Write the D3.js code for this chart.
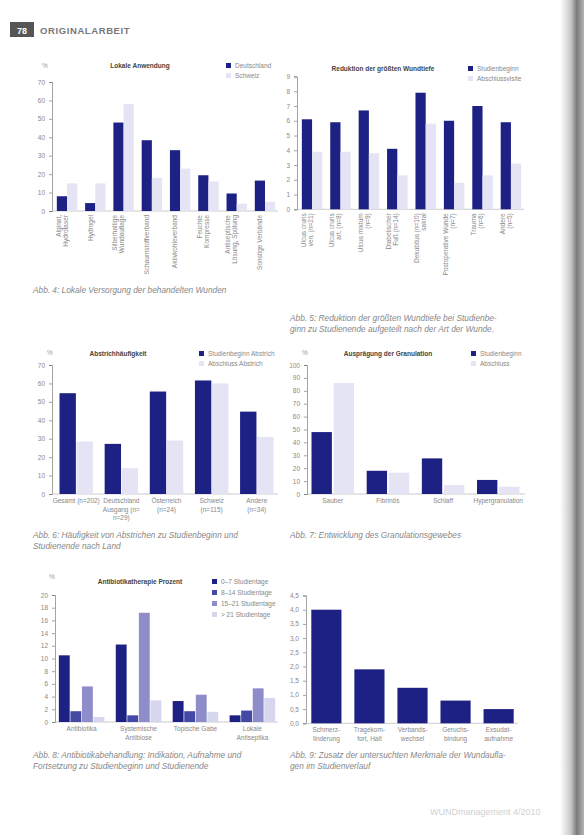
<!DOCTYPE html>
<html><head><meta charset="utf-8">
<script src="https://cdn.jsdelivr.net/npm/d3@7"></script>
<style>
body{margin:0;background:#fff;}
svg{display:block;font-family:"Liberation Sans",Arial,sans-serif;}
</style></head><body>
<script>
// Abb. 4 - lokale Anwendung
var lokCats = ["Alginat,|Hydrofaser", "Hydrogel", "Silberhaltige|Wundauflage", "Schaumstoffverband", "Aktivkohleverband", "Feuchte|Kompresse", "Antiseptische|Lösung, Spülung", "Sonstige Verbände"];
var lokDeutschland = [8, 4.3, 48, 38.4, 33, 19.4, 9.5, 16.5];
var lokSchweiz = [15, 15, 58, 18, 23, 16, 4, 5];
var lokTicks = [0, 10, 20, 30, 40, 50, 60, 70];

// Abb. 5 - Wundtiefe
var tiefeCats = ["Ulcus cruris|ven. (n=21)", "Ulcus cruris|art. (n=8)", "Ulcus mixtum|(n=9)", "Diabetischer|Fuß (n=14)", "Dekubitus (n=10)|sakral", "Postoperative Wunde|(n=7)", "Trauma|(n=6)", "Andere|(n=5)"];
var tiefeBeginn = [6.1, 5.9, 6.7, 4.1, 7.9, 6.0, 7.0, 5.9];
var tiefeAbschluss = [3.9, 3.9, 3.8, 2.3, 5.8, 1.8, 2.3, 3.1];
var tiefeTicks = [0, 1, 2, 3, 4, 5, 6, 7, 8, 9];

// Abb. 6 - Abstrichhäufigkeit
var abstrCats = ["Gesamt (n=202)", "Deutschland|Ausgang (n=|n=29)", "Österreich|(n=24)", "Schweiz|(n=115)", "Andere|(n=34)"];
var abstrBeginn = [54.7, 27.2, 55.6, 61.6, 44.7];
var abstrAbschluss = [28.5, 14, 29, 60, 31];
var abstrTicks = [0, 10, 20, 30, 40, 50, 60, 70];

// Abb. 7 - Granulation
var granCats = ["Sauber", "Fibrinös", "Schlaff", "Hypergranulation"];
var granBeginn = [48, 18, 27.6, 10.9];
var granAbschluss = [86, 16.5, 7, 5.7];
var granTicks = [0, 10, 20, 30, 40, 50, 60, 70, 80, 90, 100];

// Abb. 8 - Antibiotikatherapie
var abCats = ["Antibiotika", "Systemische|Antibiose", "Topische Gabe", "Lokale|Antiseptika"];
var abTag0 = [10.5, 12.2, 3.3, 1.05];
var abTag1 = [1.7, 1.05, 1.7, 1.8];
var abTag2 = [5.6, 17.2, 4.3, 5.3];
var abTag3 = [0.8, 3.4, 1.6, 3.8];
var abNames = ["0–7 Studientage", "8–14 Studientage", "15–21 Studientage", "> 21 Studientage"];
var abTicks = [0, 2, 4, 6, 8, 10, 12, 14, 16, 18, 20];

// Abb. 9 - Bewertung
var bewCats = ["Schmerz-|linderung", "Tragekom-|fort, Halt", "Verbands-|wechsel", "Geruchs-|bindung", "Exsudat-|aufnahme"];
var bewWerte = [4.0, 1.9, 1.25, 0.8, 0.5];
var bewTicks = [0, 0.5, 1, 1.5, 2, 2.5, 3, 3.5, 4, 4.5];

var NAVY = "#1c2183", PALE = "#e4e4f4";
var W = 584, H = 835;

var svg = d3.select("body").append("svg").attr("width", W).attr("height", H);

// scan shadow on right edge
var grad = svg.append("defs").append("linearGradient").attr("id", "edge");
grad.append("stop").attr("offset", "0%").attr("stop-color", "#fff");
grad.append("stop").attr("offset", "45%").attr("stop-color", "#c8c8c8");
grad.append("stop").attr("offset", "70%").attr("stop-color", "#7a7a7a");
grad.append("stop").attr("offset", "100%").attr("stop-color", "#b5b5b5");
svg.append("rect").attr("x", 560).attr("y", 0).attr("width", 24).attr("height", H).attr("fill", "url(#edge)");

// header
svg.append("rect").attr("x", 10).attr("y", 22).attr("width", 24).attr("height", 15).attr("fill", "#555");
svg.append("text").attr("x", 22).attr("y", 33.5).attr("text-anchor", "middle")
  .attr("fill", "#fff").style("font-size", "9px").style("font-weight", "bold").text("78");
svg.append("text").attr("x", 40).attr("y", 34).attr("fill", "#777")
  .style("font-size", "9.5px").style("font-weight", "bold").style("letter-spacing", "0.6px").text("ORIGINALARBEIT");

function chart(o) {
  var g = svg.append("g");
  var x = d3.scaleBand().domain(o.cats).range(o.xr).paddingInner(o.pi).paddingOuter(o.po);
  var sx = d3.scaleBand().domain(d3.range(o.series.length)).range([0, x.bandwidth()]).paddingInner(o.si || 0);
  var y = d3.scaleLinear().domain([0, o.max]).range(o.yr);

  var ax = g.append("g").attr("transform", "translate(" + o.ax + ",0)")
    .call(d3.axisLeft(y).tickValues(o.ticks).tickFormat(o.fmt).tickSize(3).tickPadding(4));
  ax.select(".domain").attr("stroke", "#666").attr("stroke-width", 0.6);
  ax.selectAll(".tick line").attr("stroke", "#666").attr("stroke-width", 0.6);
  ax.selectAll(".tick text").attr("fill", "#888").style("font-size", "6.5px");

  g.append("line").attr("x1", o.ax).attr("x2", o.xr[1]).attr("y1", y(0)).attr("y2", y(0))
    .attr("stroke", "#aaa").attr("stroke-width", 0.6);

  o.series.forEach(function(s, i) {
    g.selectAll(null).data(s.values).enter().append("rect")
      .attr("x", function(d, j) { return x(o.cats[j]) + sx(i); })
      .attr("width", sx.bandwidth())
      .attr("y", function(d) { return y(d); })
      .attr("height", function(d) { return y(0) - y(d); })
      .attr("fill", s.color);
  });

  o.cats.forEach(function(c) {
    var lines = c.split("|");
    var t;
    if (o.rotate) {
      var cx = x(c) + sx(0) + sx.bandwidth() / 2;
      t = g.append("text").attr("transform", "translate(" + cx + "," + (y(0) + 4) + ") rotate(-90)")
        .attr("text-anchor", "end").attr("fill", "#888").style("font-size", "6.5px");
      lines.forEach(function(l, k) {
        t.append("tspan").attr("x", 0).attr("y", (k - (lines.length - 1) / 2) * 7 + 2.3).text(l);
      });
    } else {
      t = g.append("text").attr("text-anchor", "middle").attr("fill", "#888").style("font-size", "6.5px");
      lines.forEach(function(l, k) {
        t.append("tspan").attr("x", x(c) + x.bandwidth() / 2).attr("y", y(0) + 9 + k * 8.5).text(l);
      });
    }
  });

  if (o.unit) {
    g.append("text").attr("x", o.unit[0]).attr("y", o.unit[1]).attr("text-anchor", "middle")
      .attr("fill", "#999").style("font-size", "6.5px").text("%");
  }
  if (o.title) {
    g.append("text").attr("x", o.title[0]).attr("y", o.title[1]).attr("text-anchor", "middle")
      .attr("fill", "#444").style("font-size", "6.5px").style("font-weight", "bold").text(o.title[2]);
  }
  if (o.legend) {
    o.series.forEach(function(s, i) {
      var ly = o.legend[1] + i * o.legend[2];
      g.append("rect").attr("x", o.legend[0]).attr("y", ly - 5).attr("width", 5).attr("height", 5).attr("fill", s.color);
      g.append("text").attr("x", o.legend[0] + 9).attr("y", ly).attr("fill", "#888")
        .style("font-size", "6.5px").text(s.name);
    });
  }
  var cap = g.append("text").attr("fill", "#888").style("font-size", "8.3px").style("font-style", "italic");
  o.caption.forEach(function(l, k) {
    cap.append("tspan").attr("x", o.capPos[0]).attr("y", o.capPos[1] + k * 11).text(l);
  });
}

var fmtInt = d3.format("d");
var fmtDec = function(d) { return d3.format(".1f")(d).replace(".", ","); };

chart({
  cats: lokCats, xr: [54, 278], pi: 0.28, po: 0.1, yr: [211, 82], max: 70, ax: 52,
  ticks: lokTicks, fmt: fmtInt, rotate: true, unit: [45, 68],
  series: [{ name: "Deutschland", values: lokDeutschland, color: NAVY },
           { name: "Schweiz", values: lokSchweiz, color: PALE }],
  title: [140, 68, "Lokale Anwendung"], legend: [226, 68, 10],
  caption: ["Abb. 4: Lokale Versorgung der behandelten Wunden"], capPos: [33, 293]
});

chart({
  cats: tiefeCats, xr: [299, 524], pi: 0.28, po: 0.1, yr: [209.3, 76.5], max: 9, ax: 297,
  ticks: tiefeTicks, fmt: fmtInt, rotate: true,
  series: [{ name: "Studienbeginn", values: tiefeBeginn, color: NAVY },
           { name: "Abschlussvisite", values: tiefeAbschluss, color: PALE }],
  title: [383, 71, "Reduktion der größten Wundtiefe"], legend: [468, 71, 10],
  caption: ["Abb. 5: Reduktion der größten Wundtiefe bei Studienbe-", "ginn zu Studienende aufgeteilt nach der Art der Wunde."],
  capPos: [290, 321]
});

chart({
  cats: abstrCats, xr: [55, 278], pi: 0.26, po: 0.1, si: 0.04, yr: [494, 365], max: 70, ax: 52,
  ticks: abstrTicks, fmt: fmtInt, unit: [50, 355],
  series: [{ name: "Studienbeginn Abstrich", values: abstrBeginn, color: NAVY },
           { name: "Abschluss Abstrich", values: abstrAbschluss, color: PALE }],
  title: [118, 356, "Abstrichhäufigkeit"], legend: [199, 356, 10],
  caption: ["Abb. 6: Häufigkeit von Abstrichen zu Studienbeginn und", "Studienende nach Land"], capPos: [33, 538]
});

chart({
  cats: granCats, xr: [306, 525], pi: 0.23, po: 0.1, si: 0.08, yr: [494, 365], max: 100, ax: 307,
  ticks: granTicks, fmt: fmtInt, unit: [305, 355],
  series: [{ name: "Studienbeginn", values: granBeginn, color: NAVY },
           { name: "Abschluss", values: granAbschluss, color: PALE }],
  title: [388, 356, "Ausprägung der Granulation"], legend: [471, 356, 10],
  caption: ["Abb. 7: Entwicklung des Granulationsgewebes"], capPos: [290, 538]
});

chart({
  cats: abCats, xr: [56, 278], pi: 0.2, po: 0.05, si: 0.06, yr: [722, 595], max: 20, ax: 55,
  ticks: abTicks, fmt: fmtInt, unit: [52, 579],
  series: [{ name: abNames[0], values: abTag0, color: NAVY },
           { name: abNames[1], values: abTag1, color: "#4449a3" },
           { name: abNames[2], values: abTag2, color: "#8e8cc9" },
           { name: abNames[3], values: abTag3, color: "#d6d6ee" }],
  title: [140, 584, "Antibiotikatherapie Prozent"], legend: [212, 584, 11],
  caption: ["Abb. 8: Antibiotikabehandlung: Indikation, Aufnahme und", "Fortsetzung zu Studienbeginn und Studienende"], capPos: [33, 758]
});

chart({
  cats: bewCats, xr: [307, 518], pi: 0.3, po: 0.1, yr: [723.3, 595.5], max: 4.5, ax: 306,
  ticks: bewTicks, fmt: fmtDec,
  series: [{ name: "Bewertung", values: bewWerte, color: NAVY }],
  caption: ["Abb. 9: Zusatz der untersuchten Merkmale der Wundaufla-", "gen im Studienverlauf"], capPos: [290, 758]
});

// footer
svg.append("text").attr("x", 430).attr("y", 815).attr("fill", "#d0d0d0").style("font-size", "9px")
  .text("WUNDmanagement 4/2010");
</script>
</body></html>
